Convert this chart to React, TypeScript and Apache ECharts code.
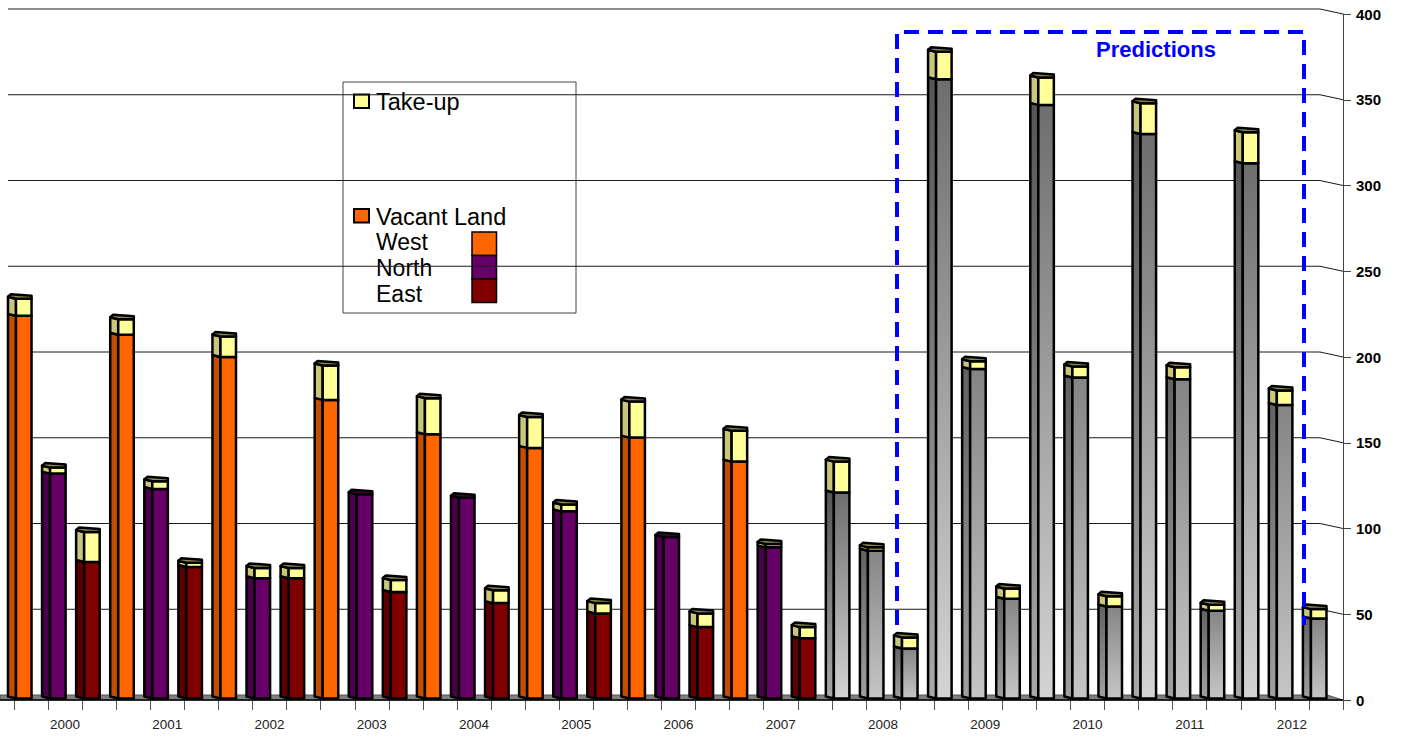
import React, { useEffect, useRef } from "react";
import * as echarts from "echarts";

// ---------- data ----------
const years = ["2000", "2001", "2002", "2003", "2004", "2005", "2006", "2007", "2008", "2009", "2010", "2011", "2012"];
const westVacant = [224, 213, 200, 175, 155, 147, 153, 139, 121, 362, 347, 330, 313];
const westTakeup = [10, 9, 12, 20, 21, 18, 21, 18, 18, 16, 16, 18, 18];
const northVacant = [132, 123, 71, 120, 118, 110, 95, 89, 87, 193, 188, 187, 172];
const northTakeup = [3.5, 4.5, 6, 0, 0, 4, 0, 2, 2, 4.5, 6.5, 7, 8.5];
const eastVacant = [80.5, 77.5, 71, 63, 56.5, 50.5, 42.5, 36, 30, 59, 54.5, 52, 47.5];
const eastTakeup = [17.5, 2.5, 6, 7, 7.5, 6, 8, 6.5, 6.5, 6, 6, 3.5, 5.5];
const yTicks = [0, 50, 100, 150, 200, 250, 300, 350, 400];
const greyFromYear = "2008";
const legendRegions = ["West", "North", "East"];

// ---------- styles ----------
const FONT = "'Liberation Sans', Arial, Helvetica, sans-serif";
const regionFront = ["#ff6600", "#660066", "#800000"];
const regionSide = ["#c24e00", "#4a004a", "#5e0000"];
const takeFront = "#ffff99";
const takeSide = "#c9c67a";
const grad = (c1: string, c2: string) => ({
  type: "linear", x: 0, y: 0, x2: 0, y2: 1,
  colorStops: [{ offset: 0, color: c1 }, { offset: 1, color: c2 }],
});
const greyFront = [grad("#6e6e6e", "#d4d4d4"), grad("#858585", "#c6c6c6"), grad("#858585", "#c6c6c6")];
const greySide = [grad("#555555", "#a8a8a8"), grad("#626262", "#a0a0a0"), grad("#626262", "#a0a0a0")];

export default function App() {
  const ref = useRef<HTMLDivElement>(null);
  useEffect(() => {
    const chart = echarts.init(ref.current!, null, { renderer: "svg" });

    const cats: string[] = [];
    const rows: number[][] = [];
    const groups = [
      [westVacant, westTakeup],
      [northVacant, northTakeup],
      [eastVacant, eastTakeup],
    ];
    years.forEach((y, i) => {
      const grey = Number(y) >= Number(greyFromYear) ? 1 : 0;
      groups.forEach(([vac, take], r) => {
        const k = cats.length;
        cats.push(y + "|" + r);
        rows.push([k, vac[i], take[i], r, grey]);
      });
    });

    const barRender = (params: any, api: any) => {
      const k = api.value(0);
      const v = api.value(1);
      const t = api.value(2);
      const r = api.value(3);
      const grey = api.value(4);
      const slot = api.size([1, 0])[0];
      const base = api.coord([k, 0]);
      const yV = api.coord([k, v])[1];
      const yT = api.coord([k, v + t])[1];
      const x0 = base[0] - (slot * 23) / 34;
      const sw = (slot * 8) / 34;
      const fw = (slot * 15.5) / 34;
      const yB = base[1] - 1.5;
      const stroke = { stroke: "#000", lineWidth: 2.5, lineJoin: "round" };
      const children: any[] = [];
      const seg = (top: number, bot: number, side: any, front: any) => {
        children.push({
          type: "polygon",
          shape: { points: [[x0, top - 2], [x0 + sw, top], [x0 + sw, bot], [x0, bot - 2]] },
          style: { fill: side, ...stroke },
        });
        children.push({
          type: "rect",
          shape: { x: x0 + sw, y: top, width: fw, height: bot - top },
          style: { fill: front, ...stroke },
        });
      };
      seg(yV, yB, grey ? greySide[r] : regionSide[r], grey ? greyFront[r] : regionFront[r]);
      let topFill = grey ? "#555" : regionSide[r];
      if (t > 0) {
        seg(yT, yV, takeSide, takeFront);
        topFill = "#8a874e";
      }
      children.push({
        type: "polygon",
        shape: {
          points: [[x0, yT - 2], [x0 + 3, yT - 4.5], [x0 + sw + fw, yT - 3], [x0 + sw + fw, yT], [x0 + sw, yT]],
        },
        style: { fill: topFill, ...stroke },
      });
      return { type: "group", children };
    };

    const gridRender = (params: any, api: any) => {
      const cs = params.coordSys;
      const y = api.coord([0, api.value(1)])[1];
      const right = cs.x + cs.width;
      if (api.value(1) === 0) {
        return {
          type: "group",
          children: [
            {
              type: "polygon",
              shape: { points: [[0, y - 5], [right - 16, y - 5], [right, y], [0, y]] },
              style: { fill: "#808080", stroke: "#555", lineWidth: 1 },
            },
            {
              type: "line",
              shape: { x1: 0, y1: y, x2: right, y2: y },
              style: { stroke: "#000", lineWidth: 1.5 },
            },
          ],
        };
      }
      return {
        type: "polyline",
        shape: { points: [[cs.x - 6, y - 5], [right - 23, y - 5], [right, y]] },
        style: { stroke: "#1a1a1a", lineWidth: 1, fill: "none" },
      };
    };

    const legendItems: any[] = [
      { type: "rect", shape: { x: 343, y: 82, width: 233, height: 231 }, style: { fill: "#fff", stroke: "#444", lineWidth: 1 } },
      { type: "rect", shape: { x: 354, y: 94.5, width: 15, height: 13.5 }, style: { fill: takeFront, stroke: "#000", lineWidth: 2 } },
      { type: "text", x: 376, y: 102, style: { text: "Take-up", fontFamily: FONT, fontSize: 23.5, fill: "#000", verticalAlign: "middle" } },
      { type: "rect", shape: { x: 354, y: 209, width: 15, height: 13.5 }, style: { fill: regionFront[0], stroke: "#000", lineWidth: 2 } },
      { type: "text", x: 376, y: 217, style: { text: "Vacant Land", fontFamily: FONT, fontSize: 23.5, fill: "#000", verticalAlign: "middle" } },
    ];
    legendRegions.forEach((name, i) => {
      legendItems.push({
        type: "text", x: 376, y: 242 + i * 26,
        style: { text: name, fontFamily: FONT, fontSize: 23, fill: "#000", verticalAlign: "middle" },
      });
      legendItems.push({
        type: "rect", shape: { x: 472, y: 232 + i * 23.5, width: 24.5, height: 23.5 },
        style: { fill: regionFront[i], stroke: "#000", lineWidth: 1.5 },
      });
    });

    chart.setOption({
      animation: false,
      grid: { left: 14, right: 77, top: 14, bottom: 44 },
      xAxis: {
        type: "category",
        data: cats,
        boundaryGap: true,
        axisLine: { show: false },
        axisTick: { show: true, interval: 0, length: 10, lineStyle: { color: "#555", width: 1 } },
        axisLabel: {
          interval: 0,
          margin: 17,
          fontFamily: FONT,
          fontSize: 13.5,
          color: "#222",
          formatter: (val: string) => (val.endsWith("|1") ? val.split("|")[0] : ""),
        },
        splitLine: { show: false },
      },
      yAxis: {
        type: "value",
        position: "right",
        min: 0,
        max: 400,
        interval: 50,
        axisLine: { show: true, lineStyle: { color: "#444", width: 1 } },
        axisTick: { show: true, length: 8, lineStyle: { color: "#444" } },
        axisLabel: { margin: 13, fontFamily: FONT, fontSize: 15, fontWeight: "bold", color: "#000" },
        splitLine: { show: false },
      },
      series: [
        {
          type: "custom",
          z: 1,
          silent: true,
          clip: false,
          encode: { x: 0, y: 1 },
          data: yTicks.map((v) => [0, v]),
          renderItem: gridRender,
        },
        {
          type: "custom",
          z: 3,
          clip: false,
          encode: { x: 0, y: 1 },
          data: rows,
          renderItem: barRender,
        },
      ],
      graphic: [
        { type: "group", z: 100, children: legendItems },
        {
          type: "polyline",
          z: 100,
          shape: { points: [[897, 625], [897, 32], [1304, 32], [1304, 625]] },
          style: { stroke: "#0000ff", lineWidth: 4, lineDash: [15, 9], fill: "none" },
        },
        {
          type: "text",
          z: 100,
          x: 1156,
          y: 49,
          style: {
            text: "Predictions", fontFamily: FONT, fontSize: 22, fontWeight: "bold",
            fill: "#0000ff", align: "center", verticalAlign: "middle",
          },
        },
      ],
    });
    return () => chart.dispose();
  }, []);
  return <div ref={ref} style={{ position: "fixed", left: 0, top: 0, width: 1420, height: 744, background: "#fff" }} />;
}
